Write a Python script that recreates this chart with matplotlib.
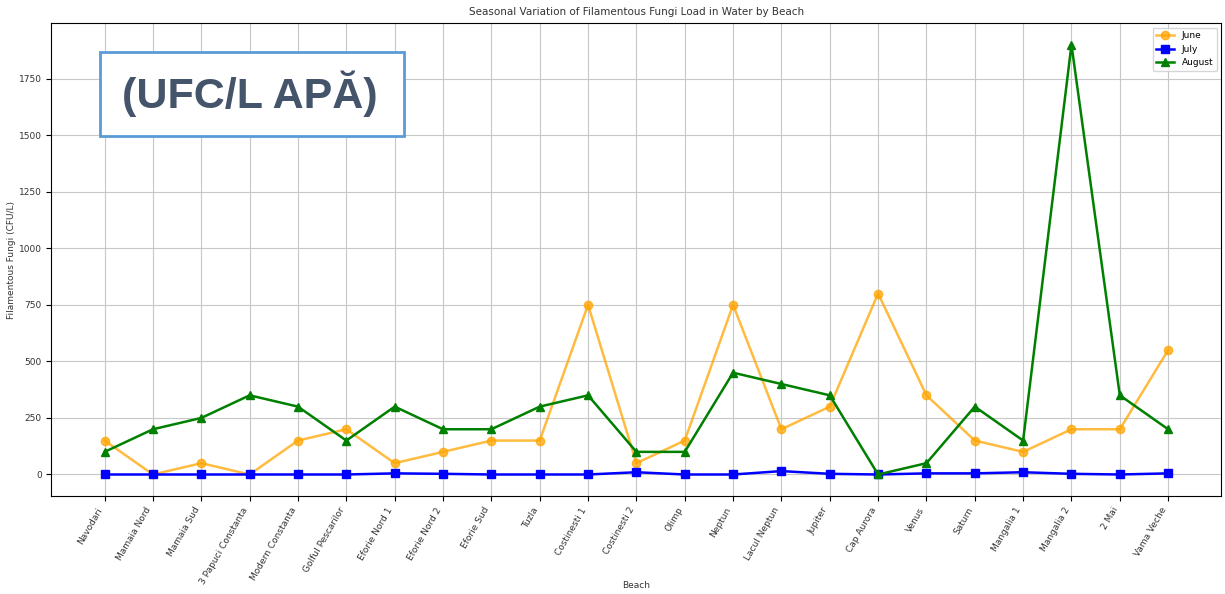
import matplotlib.pyplot as plt
from matplotlib.patches import Rectangle

beaches = ['Navodari', 'Mamaia Nord', 'Mamaia Sud', '3 Papuci Constanta', 'Modern Constanta',
           'Golful Pescarilor', 'Eforie Nord 1', 'Eforie Nord 2', 'Eforie Sud', 'Tuzla',
           'Costinesti 1', 'Costinesti 2', 'Olimp', 'Neptun', 'Lacul Neptun', 'Jupiter',
           'Cap Aurora', 'Venus', 'Saturn', 'Mangalia 1', 'Mangalia 2', '2 Mai', 'Vama Veche']
june = [150, 0, 50, 0, 150, 200, 50, 100, 150, 150, 750, 50, 150, 750, 200, 300,
        800, 350, 150, 100, 200, 200, 550]
july = [0, 0, 0, 0, 0, 0, 5, 3, 0, 0, 0, 10, 0, 0, 15, 3,
        0, 5, 5, 10, 3, 0, 5]
august = [100, 200, 250, 350, 300, 150, 300, 200, 200, 300, 350, 100, 100, 450, 400, 350,
          0, 50, 300, 150, 1900, 350, 200]

fig = plt.figure(figsize=(12.25, 5.94), dpi=100)
ax = fig.add_axes([0.042, 0.165, 0.955, 0.796])

x = range(len(beaches))
ax.plot(x, june, label='June', color='orange', alpha=0.75, linewidth=1.8, marker='o', markersize=6)
ax.plot(x, july, label='July', color='blue', linewidth=1.8, marker='s', markersize=6)
ax.plot(x, august, label='August', color='green', linewidth=1.8, marker='^', markersize=6)

ax.set_xticks(list(x))
ax.set_xticklabels(beaches, rotation=60, ha='right', fontsize=6.5, color='#333333')
ax.tick_params(axis='y', labelsize=6.5, labelcolor='#333333')
ax.grid(True, color='#c8c8c8', linewidth=0.8)
ax.set_title('Seasonal Variation of Filamentous Fungi Load in Water by Beach', fontsize=7.5, color='#333333')
ax.set_xlabel('Beach', fontsize=6.5, color='#333333', va='center')
ax.set_ylabel('Filamentous Fungi (CFU/L)', fontsize=6.5, color='#333333')
ax.xaxis.set_label_coords(0.5, -0.19)
ax.yaxis.set_label_coords(-0.03, 0.5)
ax.legend(loc='upper right', fontsize=6.5)

# overlay label box
fig.patches.append(Rectangle((100 / 1225, 1 - 136 / 594), 304 / 1225, 84 / 594,
                             transform=fig.transFigure, facecolor='white',
                             edgecolor='#5b9bd5', linewidth=2, zorder=10))
fig.text(250 / 1225, 1 - 94 / 594, '(UFC/L APĂ)', fontsize=31, fontweight='bold',
         family='Liberation Sans', color='#44546a', ha='center', va='center', zorder=11)

plt.savefig('out.png', dpi=100)
